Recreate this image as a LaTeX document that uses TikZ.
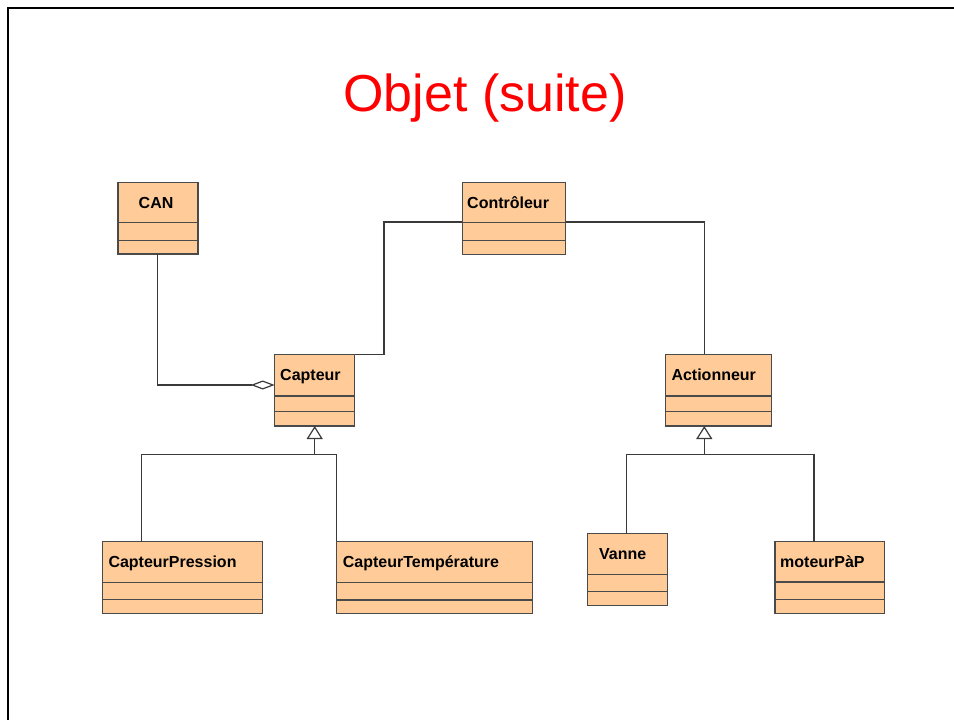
\documentclass[tikz,border=0pt]{standalone}
\usepackage{fontspec}
\setmainfont{Liberation Sans}
\usetikzlibrary{arrows.meta,calc}
\definecolor{classfill}{HTML}{FFCC99}
\definecolor{classedge}{HTML}{4A4A4A}
\definecolor{wire}{HTML}{3A3A3A}
\begin{document}
\begin{tikzpicture}[x=1pt,y=-1pt,
  classbox/.style={draw=classedge, fill=classfill, line width=1.3pt, rectangle,
    inner sep=0pt, outer sep=0pt, anchor=north west},
  divider/.style={draw=classedge, line width=1.3pt},
  classname/.style={font=\fontsize{16}{19}\selectfont\bfseries, anchor=base west, inner sep=0pt},
  link/.style={draw=wire, line width=1.2pt},
  aggreg/.style={link, -{Diamond[open, fill=white, length=24pt, width=9pt]}},
  inherit/.style={link, -{Triangle[open, fill=white, length=13pt, width=16pt]}},
  heading/.style={font=\fontsize{52}{60}\selectfont, text=red, anchor=base, inner sep=0pt}]
\useasboundingbox (0,0) rectangle (954,720);

% slide frame
\draw[line width=2pt, black] (954,8.3) -- (8.3,8.3) -- (8.3,720);

% title
\node[heading] (title) at (485,111.7) {Objet (suite)};

% class boxes: outline, two compartment rules, name
\node[classbox, minimum width=80pt, minimum height=71.3pt] (can) at (118,182.7) {};
\draw[divider] (118,222.7) -- (198,222.7) (118,240.3) -- (198,240.3);
\node[classname] (can-t) at (138.5,208.7) {CAN};

\node[classbox, minimum width=103.4pt, minimum height=72pt] (ctrl) at (462.3,182.3) {};
\draw[divider] (462.3,222.7) -- (565.7,222.7) (462.3,240.3) -- (565.7,240.3);
\node[classname] (ctrl-t) at (467,208.7) {Contrôleur};

\node[classbox, minimum width=80pt, minimum height=71.3pt] (capt) at (274.7,354.7) {};
\draw[divider] (274.7,396) -- (354.7,396) (274.7,411.7) -- (354.7,411.7);
\node[classname] (capt-t) at (280,380.7) {Capteur};

\node[classbox, minimum width=106pt, minimum height=71.7pt] (act) at (665.7,354.3) {};
\draw[divider] (665.7,396) -- (771.7,396) (665.7,411.7) -- (771.7,411.7);
\node[classname] (act-t) at (671.3,380.7) {Actionneur};

\node[classbox, minimum width=160.4pt, minimum height=71.6pt] (cpres) at (102.3,541.7) {};
\draw[divider] (102.3,582.3) -- (262.7,582.3) (102.3,599.7) -- (262.7,599.7);
\node[classname] (cpres-t) at (108.3,567.7) {CapteurPression};

\node[classbox, minimum width=195.6pt, minimum height=72pt] (ctemp) at (336.7,541.3) {};
\draw[divider] (336.7,582.7) -- (532.3,582.7) (336.7,600) -- (532.3,600);
\node[classname] (ctemp-t) at (342.7,567.3) {CapteurTempérature};

\node[classbox, minimum width=80.4pt, minimum height=72pt] (vanne) at (587.3,533.7) {};
\draw[divider] (587.3,574.3) -- (667.7,574.3) (587.3,591.3) -- (667.7,591.3);
\node[classname] (vanne-t) at (599,559.3) {Vanne};

\node[classbox, minimum width=109.7pt, minimum height=72pt] (pap) at (775,541.7) {};
\draw[divider] (775,582) -- (884.7,582) (775,599.7) -- (884.7,599.7);
\node[classname] (pap-t) at (780,567.3) {moteurPàP};

% aggregation CAN -> Capteur
\draw[aggreg] ([xshift=-0.3pt]can.south) |- ([yshift=5.35pt]capt.west);

% associations from Contrôleur
\draw[link] ([yshift=-3.7pt]ctrl.west) -| ($(capt.north east)+(29.3,0)$) -- (capt.north east);
\draw[link] ([yshift=-3.7pt]ctrl.east) -| ([xshift=-14.4pt]act.north);

% inheritance under Capteur
\coordinate (jcapt) at (314.7,454.3);
\draw[inherit] (jcapt) -- (capt.south);
\draw[link] ([xshift=-40.8pt]cpres.north) |- (jcapt);
\draw[link] (ctemp.north west) |- (jcapt);

% inheritance under Actionneur
\coordinate (jact) at (704.3,454.3);
\draw[inherit] (jact) -- ([xshift=-14.4pt]act.south);
\draw[link] ([xshift=-0.8pt]vanne.north) |- (jact);
\draw[link] ([xshift=-15.85pt]pap.north) |- (jact);
\end{tikzpicture}
\end{document}
